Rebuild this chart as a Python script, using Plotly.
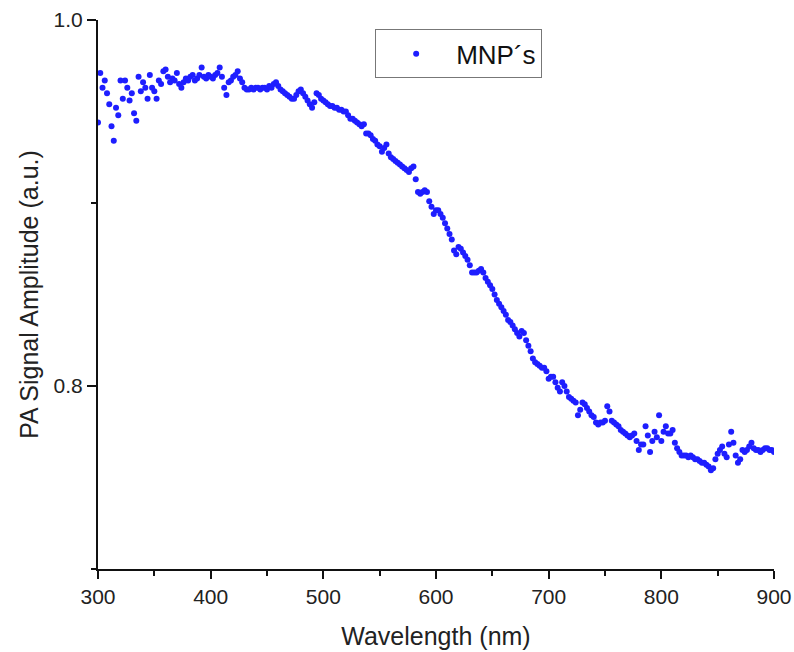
import plotly.graph_objects as go

# Wavelength samples (nm), 2 nm step
wavelength = list(range(300, 902, 2))

# PA signal amplitude (a.u.)
seg_300_420 = [
    0.944, 0.971, 0.963, 0.967, 0.960, 0.954, 0.942, 0.934, 0.952, 0.948,
    0.967, 0.957, 0.967, 0.963, 0.956, 0.960, 0.949, 0.945, 0.969, 0.961,
    0.966, 0.963, 0.957, 0.970, 0.963, 0.961, 0.957, 0.967, 0.965, 0.972,
    0.973, 0.969, 0.966, 0.968, 0.967, 0.971, 0.965, 0.963, 0.966, 0.968,
    0.967, 0.969, 0.970, 0.967, 0.968, 0.970, 0.974, 0.969, 0.968, 0.970,
    0.969, 0.968, 0.970, 0.971, 0.974, 0.969, 0.963, 0.959, 0.966, 0.967,
    0.969,
]
seg_422_540 = [
    0.970, 0.972, 0.968, 0.966, 0.963, 0.962, 0.962, 0.963, 0.962, 0.963,
    0.963, 0.962, 0.963, 0.963, 0.962, 0.964, 0.963, 0.965, 0.966, 0.964,
    0.962, 0.961, 0.960, 0.959, 0.958, 0.957, 0.957, 0.959, 0.961, 0.962,
    0.960, 0.958, 0.956, 0.954, 0.952, 0.955, 0.960, 0.959, 0.957, 0.956,
    0.955, 0.954, 0.953, 0.953, 0.952, 0.952, 0.951, 0.951, 0.950, 0.950,
    0.948, 0.946, 0.946, 0.945, 0.944, 0.943, 0.942, 0.943, 0.938, 0.938,
]
seg_542_660 = [
    0.937, 0.935, 0.934, 0.932, 0.931, 0.928, 0.930, 0.932, 0.927, 0.925,
    0.924, 0.923, 0.922, 0.921, 0.920, 0.919, 0.918, 0.917, 0.919, 0.920,
    0.913, 0.906, 0.905, 0.906, 0.907, 0.906, 0.901, 0.898, 0.894, 0.896,
    0.896, 0.894, 0.892, 0.889, 0.886, 0.883, 0.880, 0.874, 0.872, 0.876,
    0.875, 0.873, 0.871, 0.869, 0.866, 0.862, 0.862, 0.862, 0.863, 0.864,
    0.862, 0.859, 0.857, 0.855, 0.853, 0.850, 0.847, 0.845, 0.843, 0.841,
]
seg_662_780 = [
    0.839, 0.836, 0.835, 0.833, 0.831, 0.829, 0.827, 0.830, 0.829, 0.825,
    0.822, 0.819, 0.815, 0.813, 0.812, 0.811, 0.810, 0.810, 0.808, 0.804,
    0.805, 0.805, 0.802, 0.799, 0.797, 0.802, 0.800, 0.797, 0.794, 0.793,
    0.792, 0.791, 0.784, 0.787, 0.791, 0.790, 0.788, 0.786, 0.784, 0.783,
    0.780, 0.779, 0.780, 0.780, 0.781, 0.789, 0.786, 0.781, 0.780, 0.779,
    0.778, 0.776, 0.775, 0.774, 0.773, 0.772, 0.773, 0.774, 0.770, 0.765,
]
seg_782_900 = [
    0.768, 0.768, 0.778, 0.773, 0.764, 0.770, 0.775, 0.772, 0.784, 0.770,
    0.775, 0.778, 0.774, 0.774, 0.776, 0.769, 0.766, 0.764, 0.762, 0.762,
    0.762, 0.761, 0.762, 0.761, 0.760, 0.760, 0.759, 0.758, 0.758, 0.757,
    0.756, 0.754, 0.755, 0.760, 0.763, 0.765, 0.767, 0.763, 0.761, 0.768,
    0.775, 0.769, 0.762, 0.758, 0.760, 0.765, 0.764, 0.765, 0.767, 0.769,
    0.766, 0.765, 0.765, 0.764, 0.765, 0.766, 0.766, 0.765, 0.765, 0.764,
]
amplitude = seg_300_420 + seg_422_540 + seg_542_660 + seg_662_780 + seg_782_900

series_name = "MNP\u00b4s"
x_title = "Wavelength (nm)"
y_title = "PA Signal Amplitude (a.u.)"

FONT = "Liberation Sans, Arial, Helvetica, sans-serif"

fig = go.Figure()
fig.add_trace(go.Scatter(
    x=wavelength, y=amplitude, mode="markers", name=series_name,
    marker=dict(color="rgb(30,30,255)", size=6, line=dict(width=0)),
    showlegend=True,
))

fig.update_layout(
    width=794, height=652,
    margin=dict(l=98, r=20, t=20, b=83),
    paper_bgcolor="white", plot_bgcolor="white",
    font=dict(family=FONT, color="#222"),
    showlegend=True,
    legend=dict(
        x=0.41, y=0.983, xanchor="left", yanchor="top",
        bordercolor="#777", borderwidth=1, bgcolor="white",
        font=dict(size=26, color="#111"),
        itemwidth=70,
    ),
    xaxis=dict(
        range=[300, 900], tick0=300, dtick=100, automargin=False,
        ticklabeloverflow="allow",
        showline=True, linecolor="#111", linewidth=2,
        ticks="outside", ticklen=8, tickwidth=1.5, tickcolor="#111",
        tickfont=dict(size=21, color="#222"),
        showgrid=False, zeroline=False,
        minor=dict(dtick=50, ticks="outside", ticklen=5, tickwidth=1.5, tickcolor="#111", showgrid=False),
        title=dict(text=x_title, font=dict(size=25, color="#222"), standoff=20),
    ),
    yaxis=dict(
        range=[0.7, 1.0], tick0=0.8, dtick=0.2, tickformat=".1f", automargin=False,
        ticklabeloverflow="allow",
        showline=True, linecolor="#111", linewidth=2,
        ticks="outside", ticklen=9, tickwidth=1.5, tickcolor="#111",
        tickfont=dict(size=21, color="#222"),
        showgrid=False, zeroline=False,
        minor=dict(dtick=0.1, ticks="outside", ticklen=5, tickwidth=1.5, tickcolor="#111", showgrid=False),
        title=dict(text=y_title, font=dict(size=25, color="#222"), standoff=8),
    ),
)

# Remove the default 8 px page margin so the figure fills the window exactly
fig.write_html(
    "out.html",
    config={"displayModeBar": False},
    post_script="document.body.style.margin='0';document.body.style.overflow='hidden';",
)
